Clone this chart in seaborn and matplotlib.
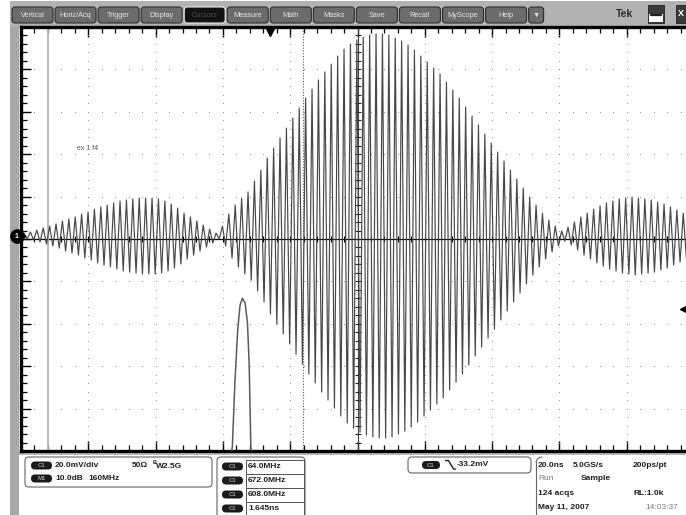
import numpy as np
import pandas as pd
import matplotlib
matplotlib.use("Agg")
import matplotlib.pyplot as plt
import seaborn as sns
from matplotlib.patches import FancyBboxPatch, Rectangle

# ---------------- data ----------------
menu_labels = ["Vertical", "Horiz/Acq", "Trigger", "Display", "Cursors", "Measure",
               "Math", "Masks", "Save", "Recall", "MyScope", "Help", "\u25BC"]
active_menu = "Cursors"

# amplitude (mV) of each carrier cycle across the screen, left to right
peak_mv = [1.4, 1.9, 2.8, 3.8, 4.7, 5.7, 7.1, 8.0, 9.0, 10.4,
           11.3, 12.7, 13.7, 14.6, 15.6, 16.5, 17.0, 17.5, 17.9, 17.9,
           17.9, 17.5, 16.5, 15.1, 13.2, 10.8, 9.0, 7.1, 5.2, 3.3, 1.4,
           4.7, 10.4, 14.6, 17.9, 20.8, 25.9, 31.1, 36.8, 41.5, 46.2,
           50.9, 55.7, 60.4, 65.1, 69.3, 73.6, 77.4, 81.1, 84.9, 88.2,
           90.6, 92.5, 93.9, 94.8, 95.3, 95.3, 94.8, 93.4, 92.0, 90.1,
           87.7, 84.9, 82.1, 79.2, 76.4, 72.6, 68.9, 65.1, 60.8, 56.6,
           52.4, 48.1, 43.9, 39.6, 35.4, 31.1, 26.9, 22.6, 18.4, 14.6,
           10.8, 7.5, 4.7, 2.4,
           4.2, 6.6, 9.0, 10.8, 12.7, 14.2, 15.6, 16.5, 17.5, 17.9,
           18.4, 17.9, 17.5, 17.0, 16.0, 15.1, 13.7, 12.3, 10.8]
first_peak_ns = -99.1
period_ns = 1.902          # displayed carrier period
baseline_mv = 1.4          # channel 1 ground level

# math trace M1 (FFT peak)
m1_t_ns = [-37.5, -37.2, -36.4, -35.6, -34.9, -34.2, -33.4, -32.7, -32.2, -31.7, -31.6]
m1_mv = [-101.0, -98.0, -66.5, -42.9, -31.1, -28.0, -30.2, -39.6, -58.5, -98.0, -101.0]

cursor_solid_ns = -92.0
cursor_dotted_ns = -16.2
trigger_pos_ns = -26.0
trigger_level_mv = -33.2
annotation_text = "ex 1 f4"
annotation_pos = (-80.1, 42.9)

ch_scale = "20.0mV/div"
ch_imp = "50\u03A9"
ch_bw = "2.5G"
math_row = ("10.0dB", "160MHz")
meas_values = ["64.0MHz", "672.0MHz", "608.0MHz", "1.645ns"]
trig_text = "-33.2mV"
acq_rows = [("20.0ns", "5.0GS/s", "200ps/pt"), ("Run", "Sample", ""),
            ("124 acqs", "", "RL:1.0k"), ("May 11, 2007", "", "14:03:37")]

# ---------------- figure ----------------
sns.set_style("white")
plt.rcParams['font.family'] = ['Liberation Sans', 'DejaVu Sans']

W, H = 686, 515
fig = plt.figure(figsize=(W / 100, H / 100), dpi=100)
fig.patch.set_facecolor("white")

# background/UI layer (pixel coordinates)
bg = fig.add_axes([0, 0, 1, 1], zorder=0)
bg.set_xlim(0, W); bg.set_ylim(H, 0); bg.axis("off")

L, T, B = 21, 27, 451
DIV = 67.3
R = L + 10 * DIV
ax = fig.add_axes([L / W, 1 - B / H, (R - L) / W, (B - T) / H], zorder=1)

ui = fig.add_axes([0, 0, 1, 1], zorder=2)
ui.set_xlim(0, W); ui.set_ylim(H, 0); ui.axis("off"); ui.patch.set_alpha(0)

# menu bar
bg.add_patch(Rectangle((10, 1), W - 10, 25, facecolor="#b2b2b2", edgecolor="none"))
bg.add_patch(Rectangle((10, 26), 9, H - 26, facecolor="#a8a8a8", edgecolor="none"))
bg.add_patch(Rectangle((19, 452), W - 19, 3, facecolor="#bdbdbd", edgecolor="none"))
for i, lab in enumerate(menu_labels):
    x0 = 12 + 43.05 * i
    w = 15 if lab == "\u25BC" else 41
    active = lab == active_menu
    ui.add_patch(FancyBboxPatch((x0, 7), w, 16, boxstyle="round,pad=0,rounding_size=3",
                                facecolor="#121212" if active else "#6c6c6c",
                                edgecolor="#e8e8e8" if active else "#2e2e2e", lw=0.8))
    ui.text(x0 + w / 2, 15.5, lab, ha="center", va="center", fontsize=5.3,
            color="#505050" if active else "#e4e4e4")
ui.text(625, 14, "Tek", ha="center", va="center", fontsize=7.5, fontweight="bold", color="#2a2a2a")
ui.add_patch(Rectangle((648, 5), 16, 18, facecolor="#3a3a3a", edgecolor="#222", lw=0.6))
ui.add_patch(Rectangle((649, 14), 14, 8, facecolor="white", edgecolor="none"))
ui.plot([651, 661], [14.5, 14.5], color="#222", lw=1.6)
ui.add_patch(Rectangle((676, 5), 12, 18, facecolor="#3a3a3a", edgecolor="#222", lw=0.6))
ui.text(681, 14, "X", ha="center", va="center", fontsize=6.5, fontweight="bold", color="white")

# ---------------- graticule ----------------
ax.set_xlim(-100, 100)
ax.set_ylim(-100, 100)
ax.set_facecolor("white")
major = np.arange(-100, 101, 20)
minor = np.arange(-100, 101, 4)
ax.set_xticks(major); ax.set_xticks(minor, minor=True)
ax.set_yticks(major); ax.set_yticks(minor, minor=True)
ax.tick_params(which="both", direction="in", top=True, bottom=True, left=True, right=False,
               labelbottom=False, labelleft=False, color="black")
ax.tick_params(which="major", length=7, width=1.0)
ax.tick_params(which="minor", length=4, width=0.9)
for s in ["left", "top", "bottom"]:
    ax.spines[s].set_linewidth(2.4)
    ax.spines[s].set_color("black")
ax.spines["right"].set_visible(False)

inner = major[1:-1]
gx, gy = np.meshgrid(inner[inner != 0], minor)
ax.scatter(gx.ravel(), gy.ravel(), s=0.6, color="#8a8a8a", lw=0, zorder=1)
hx, hy = np.meshgrid(minor, inner[inner != 0])
ax.scatter(hx.ravel(), hy.ravel(), s=0.6, color="#8a8a8a", lw=0, zorder=1)

ax.axhline(0, color="black", lw=0.9, zorder=2)
ax.axvline(0, color="#444", lw=0.8, zorder=2)
ax.plot(minor, np.zeros_like(minor), "|", color="black", ms=4, mew=0.8, zorder=2)
ax.plot(np.zeros_like(minor), minor, "_", color="#222", ms=5, mew=0.8, zorder=2)

ax.axvline(cursor_solid_ns, color="#b5b5b5", lw=1.3, zorder=2)
ax.axvline(cursor_dotted_ns, color="#555", lw=0.8, ls=(0, (1, 1.5)), zorder=2)

# ---------------- waveforms ----------------
k = np.arange(len(peak_mv))
t_peak = first_peak_ns + period_ns * k
amp = np.asarray(peak_mv)
df = pd.DataFrame({
    "t": np.column_stack([t_peak, t_peak + period_ns / 2]).ravel(),
    "v": np.column_stack([baseline_mv + amp, baseline_mv - amp]).ravel(),
})
sns.lineplot(data=df, x="t", y="v", sort=False, estimator=None, ax=ax,
             color="#474747", lw=0.85, zorder=3)

m1 = pd.DataFrame({"t": m1_t_ns, "v": m1_mv})
sns.lineplot(data=m1, x="t", y="v", sort=False, estimator=None, ax=ax,
             color="#5a5a5a", lw=1.1, zorder=3)
ax.set_xlabel(""); ax.set_ylabel("")

# markers
ax.plot([-101.2], [baseline_mv], "o", ms=9.5, color="black", clip_on=False, zorder=6)
ax.text(-101.2, baseline_mv, "1", ha="center", va="center", fontsize=5, fontweight="bold",
        color="white", clip_on=False, zorder=7)
ax.plot([-99.3], [baseline_mv], ">", ms=3.5, color="black", clip_on=False, zorder=6)
ax.plot([trigger_pos_ns], [97.6], "v", ms=6, color="black", clip_on=False, zorder=6)
ax.plot([96.7], [trigger_level_mv], "<", ms=5, color="black", clip_on=False, zorder=6)
ax.text(*annotation_pos, annotation_text, ha="center", va="center", fontsize=5, color="#555")

# ---------------- bottom status panel ----------------
fs = 6.0
tc = "#1e1e1e"


def badge(x, y, txt, w=21, h=8):
    ui.add_patch(FancyBboxPatch((x, y - h / 2), w, h, boxstyle="round,pad=0,rounding_size=4",
                                facecolor="#1a1a1a", edgecolor="none"))
    ui.text(x + w / 2, y + 0.3, txt, ha="center", va="center", fontsize=4.3,
            color="#9a9a9a", fontweight="bold")


ui.add_patch(FancyBboxPatch((25, 457), 187, 30, boxstyle="round,pad=0,rounding_size=4",
                            facecolor="white", edgecolor="#666", lw=0.8))
badge(31, 465.5, "C1")
ui.text(55, 465.5, ch_scale, fontsize=fs, fontweight="bold", color=tc, va="center")
ui.text(132, 465.5, ch_imp, fontsize=fs, fontweight="bold", color=tc, va="center")
ui.text(153, 462.3, "B", fontsize=4, fontweight="bold", color=tc, va="center")
ui.text(156, 466.5, "W" + ch_bw, fontsize=fs, fontweight="bold", color=tc, va="center")
badge(31, 478.5, "M1")
ui.text(55, 478.5, math_row[0], fontsize=fs, fontweight="bold", color=tc, va="center")
ui.text(88, 478.5, math_row[1], fontsize=fs, fontweight="bold", color=tc, va="center")

ui.add_patch(FancyBboxPatch((217, 457), 88, 70, boxstyle="round,pad=0,rounding_size=4",
                            facecolor="white", edgecolor="#666", lw=0.8, clip_on=True))
for i, val in enumerate(meas_values):
    y0 = 459.5 + 14 * i
    ui.add_patch(Rectangle((246, y0), 58, 14, facecolor="white", edgecolor="#555", lw=0.7))
    badge(222, y0 + 7, "C1")
    ui.text(248, y0 + 7.3, val, fontsize=fs, fontweight="bold", color=tc, va="center")

ui.add_patch(FancyBboxPatch((408, 457), 123, 16, boxstyle="round,pad=0,rounding_size=4",
                            facecolor="white", edgecolor="#666", lw=0.8))
badge(422, 465, "C1", w=18)
ui.plot([445.5, 448.5, 453.5, 455.5], [460.5, 460.5, 469, 469], color=tc, lw=1.0)
ui.text(457, 465, trig_text, fontsize=fs, fontweight="bold", color=tc, va="center")

ui.plot([536, 536], [516, 462], color="#666", lw=0.8)
ui.plot([536, 537, 539, 542], [462, 459.5, 457.8, 457], color="#666", lw=0.8)
cols = [538, 573, 633]
row_y = [465.5, 479, 493.5, 507.5]
for r, (row, y) in enumerate(zip(acq_rows, row_y)):
    for j, txt in enumerate(row):
        if not txt:
            continue
        x = cols[j]
        if r == 1 and j == 1:
            x = 581
        if r == 3 and j == 2:
            x = 645
        gray = txt in ("Run", "14:03:37")
        ui.text(x, y, txt, fontsize=fs, fontweight="normal" if gray else "bold",
                color="#7a7a7a" if gray else tc, va="center")

fig.savefig("out.png", dpi=100, facecolor="white")
